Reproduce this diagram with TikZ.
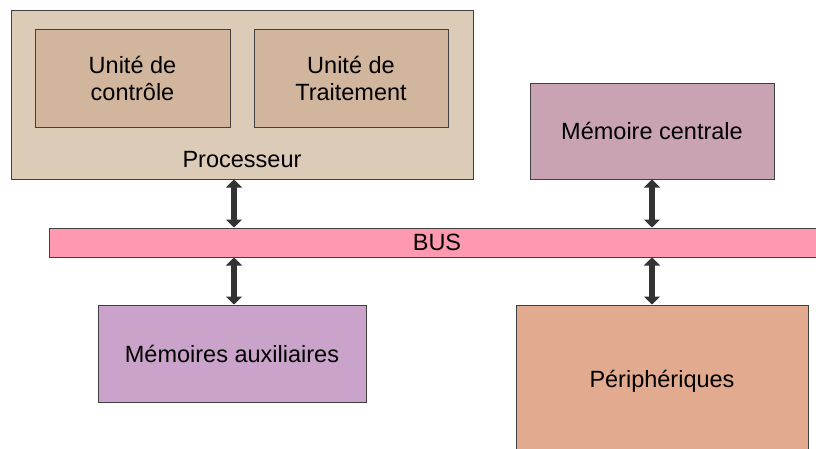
\documentclass[tikz,border=0pt]{standalone}
\usepackage{fontspec}
\setmainfont{Liberation Sans}
\usetikzlibrary{arrows.meta}
\definecolor{procfill}{HTML}{DCCBB7}
\definecolor{unitfill}{HTML}{D1B59C}
\definecolor{memfill}{HTML}{C9A3B4}
\definecolor{busfill}{HTML}{FF99B0}
\definecolor{auxfill}{HTML}{C9A3CA}
\definecolor{perfill}{HTML}{E2AA8E}
\definecolor{edge}{HTML}{404040}
\definecolor{arrowc}{HTML}{333333}
\tikzset{
  txt/.style={font=\fontsize{23.5}{27}\selectfont},
  box/.style={draw=edge, line width=1pt, rectangle, inner sep=0pt, align=center, txt},
  biarrow/.style={draw=arrowc, line width=6pt,
    {Triangle[width=16pt,length=8pt]}-{Triangle[width=16pt,length=8pt]}},
}
\begin{document}
\begin{tikzpicture}[x=1pt,y=-1pt]
\useasboundingbox (0,0) rectangle (816,448);
\node[box, fill=procfill, minimum width=462pt, minimum height=169pt] (proc) at (242,94.5) {};
\node[box, fill=unitfill, minimum width=195pt, minimum height=98pt] (ctrl) at (132.5,78) {Unité de\\contrôle};
\node[box, fill=unitfill, minimum width=194pt, minimum height=98pt] (trait) at (351,78) {Unité de\\Traitement};
\node[txt, inner sep=0pt] (proclbl) at (242,160) {Processeur};
\node[box, fill=memfill, minimum width=244pt, minimum height=96pt] (mem) at (652,131) {Mémoire centrale};
\node[box, fill=busfill, minimum width=776pt, minimum height=29pt] (bus) at (437,242.5) {BUS};
\node[box, fill=auxfill, minimum width=268pt, minimum height=97pt] (aux) at (232,353.5) {Mémoires auxiliaires};
\node[box, fill=perfill, minimum width=292pt, minimum height=152pt] (per) at (662,381) {Périphériques};
\coordinate (ax) at ([xshift=2pt]aux.north);
\draw[biarrow] (proc.south -| ax) -- (bus.north -| ax);
\draw[biarrow] (bus.south -| ax) -- (ax);
\draw[biarrow] (mem.south) -- (bus.north -| mem.south);
\draw[biarrow] (bus.south -| mem.south) -- (per.north -| mem.south);
\end{tikzpicture}
\end{document}
